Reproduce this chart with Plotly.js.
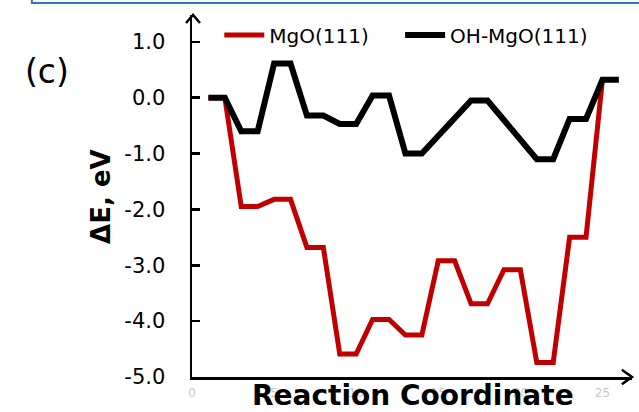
<!DOCTYPE html>
<html>
<head>
<meta charset="utf-8">
<script src="https://cdn.plot.ly/plotly-3.0.1.min.js"></script>
<style>html,body{margin:0;padding:0;background:#fff;}#chart{width:639px;height:412px;}</style>
</head>
<body>
<div id="chart"></div>
<script>
// Reaction coordinate steps
const stepsMgO = [1, 2, 3, 4, 5, 6, 7, 8, 9, 10, 11, 12, 13, 14, 15, 16, 17, 18, 19, 20, 21, 22, 23, 24, 25];
const energyMgO = [0.0, 0.0, -1.95, -1.95, -1.82, -1.82, -2.68, -2.68, -4.59, -4.59, -3.97, -3.97, -4.25, -4.25, -2.92, -2.92, -3.69, -3.69, -3.08, -3.08, -4.74, -4.74, -2.50, -2.50, 0.32];
const stepsOH = [1, 2, 3, 4, 5, 6, 7, 8, 9, 10, 11, 12, 13, 14, 17, 18, 21, 22, 23, 24, 25, 26];
const energyOH = [0.0, 0.0, -0.60, -0.60, 0.61, 0.61, -0.32, -0.32, -0.47, -0.47, 0.04, 0.04, -1.00, -1.00, -0.05, -0.05, -1.10, -1.10, -0.38, -0.38, 0.32, 0.32];
const seriesNames = ["MgO(111)", "OH-MgO(111)"];
const yTicks = [-5, -4, -3, -2, -1, 0, 1];
const yTickText = ["-5.0", "-4.0", "-3.0", "-2.0", "-1.0", "0.0", "1.0"];
const xTicks = [0, 5, 10, 15, 20, 25];

const FONT = "'DejaVu Sans', sans-serif";

const traces = [
  {x: stepsMgO, y: energyMgO, name: seriesNames[0], mode: "lines", legend: "legend",
   line: {color: "#C00000", width: 5}},
  {x: stepsOH, y: energyOH, name: seriesNames[1], mode: "lines", legend: "legend2",
   line: {color: "#000000", width: 6}}
];

const legendCommon = {orientation: "h", xanchor: "left", y: 0.945, yanchor: "middle",
  font: {size: 20, family: FONT, color: "#000"}, bgcolor: "rgba(0,0,0,0)", itemwidth: 40};

const layout = {
  width: 639, height: 412,
  margin: {l: 192, r: 7, t: 15, b: 35},
  paper_bgcolor: "#fff", plot_bgcolor: "#fff",
  font: {family: FONT, color: "#000"},
  showlegend: true,
  legend: Object.assign({x: 0.062}, legendCommon),
  legend2: Object.assign({x: 0.473}, legendCommon),
  xaxis: {range: [0, 26.8], tickvals: xTicks, showgrid: false, zeroline: false,
          showline: true, linecolor: "#000", linewidth: 2.5, ticks: "",
          tickfont: {size: 12, color: "#c8c8c8", family: FONT}, ticklabelstandoff: 3},
  yaxis: {range: [-5, 1.48], tickvals: yTicks, ticktext: yTickText, showgrid: false, zeroline: false,
          showline: true, linecolor: "#000", linewidth: 2.5, ticks: "inside", ticklen: 8,
          tickwidth: 2.5, tickcolor: "#000",
          tickfont: {size: 21, color: "#000", family: FONT}, ticklabelstandoff: 20},
  annotations: [
    {text: "<b>Reaction Coordinate</b>", xref: "paper", yref: "paper", x: 0.502, y: -0.052,
     xanchor: "center", yanchor: "middle", showarrow: false, font: {size: 28, family: FONT, color: "#000"}},
    {text: "<b>ΔE, eV</b>", xref: "paper", yref: "paper", x: -0.207, y: 0.5,
     xanchor: "center", yanchor: "middle", textangle: -90, showarrow: false,
     font: {size: 26, family: FONT, color: "#000"}},
    {text: "(c)", xref: "paper", yref: "paper", x: -0.33, y: 0.845,
     xanchor: "center", yanchor: "middle", showarrow: false, font: {size: 33, family: FONT, color: "#000"}}
  ],
  shapes: [
    {type: "rect", xref: "paper", yref: "paper", x0: -0.364, x1: 1.05, y0: 1.033, y1: 1.2,
     line: {color: "#2E75C6", width: 2}, fillcolor: "rgba(0,0,0,0)"},
    {type: "path", xref: "paper", yref: "paper",
     path: "M -0.0136,0.978 L 0.0023,1.0 L 0.0182,0.978", line: {color: "#000", width: 2.5}},
    {type: "path", xref: "paper", yref: "paper",
     path: "M 0.977,0.02 L 1.0,0.0 L 0.977,-0.02", line: {color: "#000", width: 2.5}}
  ]
};

Plotly.newPlot("chart", traces, layout, {displayModeBar: false, staticPlot: true});
</script>
</body>
</html>
